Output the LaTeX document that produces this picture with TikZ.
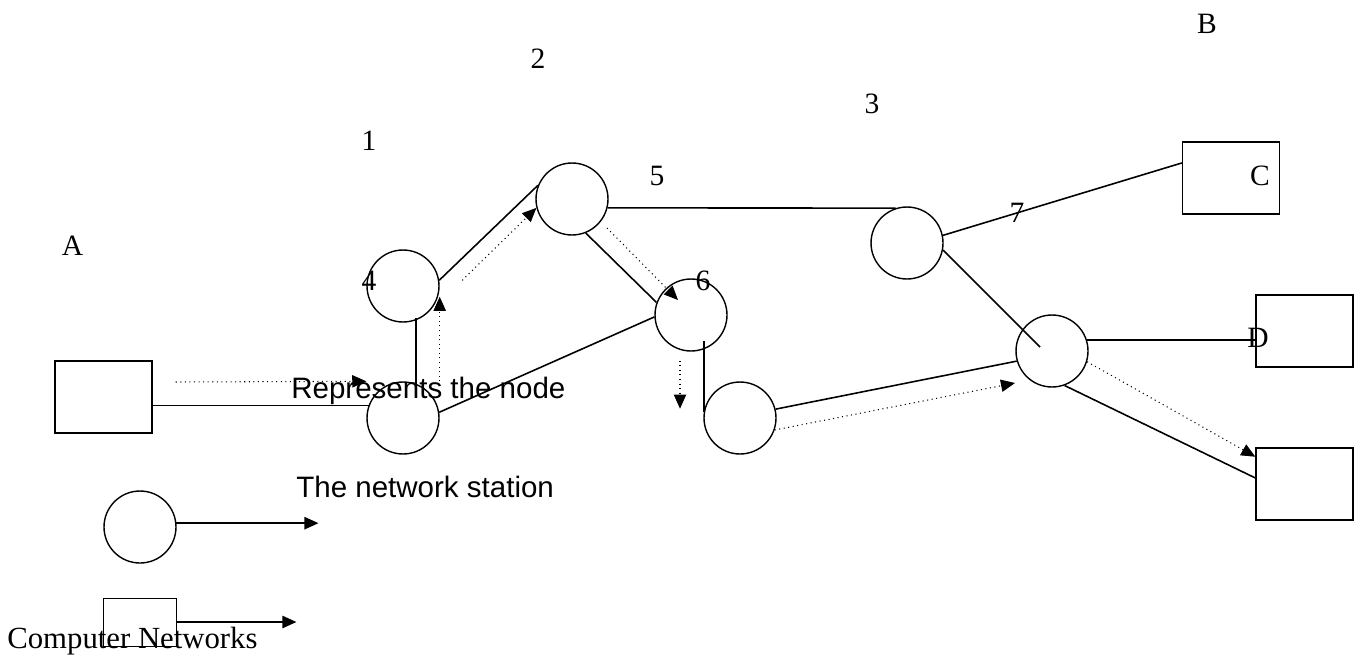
\documentclass[tikz,border=0pt]{standalone}
\usepackage{fontspec}
\setmainfont{Liberation Serif}
\newfontfamily\arialfont{Liberation Sans}
\usetikzlibrary{arrows.meta,calc}

\begin{document}
\begin{tikzpicture}[x=0.02cm, y=-0.02cm,
    station/.style={draw, circle, line width=0.8pt, minimum size=1.44cm, inner sep=0pt},
    host/.style={draw, rectangle, line width=0.8pt, minimum width=1.94cm, minimum height=1.44cm, inner sep=0pt},
    link/.style={line width=0.9pt},
    tip/.style={-{Triangle[length=8pt,width=7pt]}},
    route/.style={dotted, line width=0.6pt, tip},
    lbl/.style={anchor=base, inner sep=0pt, font=\fontsize{16.8}{20}\selectfont},
    note/.style={anchor=base west, inner sep=0pt, font=\arialfont\fontsize{16.8}{20}\selectfont}]
            \useasboundingbox (0,0) rectangle (1361,656);

            % Define stations
            \node[station] (n4) at (403,286) {};
            \node[station] (n1) at (403,418) {};
            \node[station] (n2) at (572,199) {};
            \node[station] (n6) at (691,315) {};
            \node[station] (n5) at (740,418) {};
            \node[station] (n3) at (907,243) {};
            \node[station] (n7) at (1052,351) {};

            % Define hosts
            \node[host] (A) at (103.5,397) {};
            \node[host] (C) at (1231,178) {};
            \node[host] (D) at (1304.5,331) {};
            \node[host] (E) at (1304.5,484) {};

            % Draw links
            \draw[link] (A.east |- n1.160) -- (n1.160);
            \draw[link] (n1.69) -- (n1.69 |- n4.-62);
            \draw[link] (n4.9) -- (n2.158);
            \draw[link] (n1.9) -- (n6.183);
            \draw[link] (n2.-68) -- (n6.160);
            \draw[link] (n2.-14) -- (n3.108);
            \draw[link] (n5.171) -- (n5.171 |- n6.-45);
            \draw[link] (n5.14) -- (n7.196);
            \draw[link] (n3.12) -- (C.163);
            \draw[link] (n3.-11) -- ($(n7.center)+(-12,-4)$);
            \draw[link] (n7.17) -- (n7.17 -| D.west);
            \draw[link] (n7.-70) -- (E.173);

            % Draw routes
            \draw[route] ($(A.east)+(23,-15)$) -- (n1.west |- n1.north);
            \draw[route] (n1.east |- n1.north) -- (n1.east |- n4.-17);
            \draw[route] ($(n4.9)+(23,0)$) -- (n2.194);
            \draw[route] ($(n2.center)+(35,29)$) -- ($(n6.center)+(-13,-15)$);
            \draw[route] ($(n6.south)+(-11,9)$) -- ++(0,48);
            \draw[route] (n5.-19) -- ($(n7.center)+(-37,32)$);
            \draw[route] (n7.-17) -- (E.151);

            % Add labels
            \node[lbl] (tA) at (72.5,255) {A};
            \node[lbl] (t1) at (369,150) {1};
            \node[lbl] (t2) at (538,68) {2};
            \node[lbl] (t3) at (872,113) {3};
            \node[lbl] (tB) at (1207,33) {B};
            \node[lbl] (t5) at (657,185) {5};
            \node[lbl] (t4) at (369,290) {4};
            \node[lbl] (t6) at (703,290) {6};
            \node[lbl] (t7) at (1017,222) {7};
            \node[lbl] (tC) at (1260,185) {C};
            \node[lbl] (tD) at (1258,347) {D};
            \node[note] (tnode) at (291,398) {Represents the node};
            \node[note] (tstation) at (296,497) {The network station};

            % Legend
            \node[station] (key1) at (140,527) {};
            \node[host, minimum width=1.46cm, minimum height=0.96cm, line width=0.5pt] (key2) at (139.5,622) {};
            \draw[link, tip] (key1.6) -- ++(142,0);
            \draw[link, tip] (key2.east) -- ++(120,0);
            \node[lbl, anchor=base west, font=\fontsize{17.5}{20}\selectfont] (tcn) at (7,648) {Computer Networks};
\end{tikzpicture}
\end{document}
